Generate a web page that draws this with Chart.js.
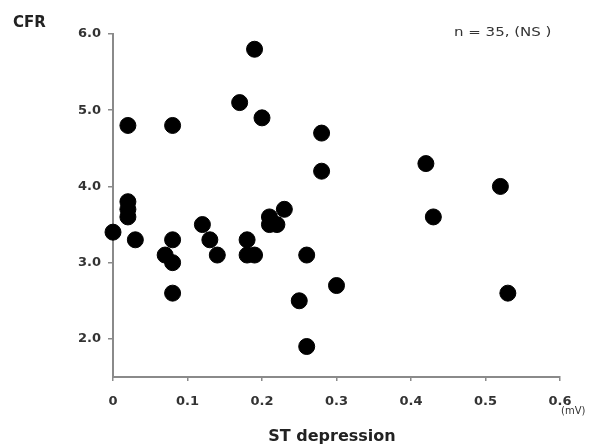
<!DOCTYPE html>
<html>
<head>
<meta charset="utf-8">
<script src="https://cdn.jsdelivr.net/npm/chart.js@4"></script>
<style>
  html, body { margin: 0; padding: 0; background: #fff; }
  #wrap { width: 595px; height: 448px; }
</style>
</head>
<body>
<div id="wrap"><canvas id="cfrChart" width="595" height="448"></canvas></div>
<script>
// ST depression (mV) vs CFR
const stDepression = [0, 0.02, 0.02, 0.02, 0.02, 0.03, 0.07, 0.08, 0.08, 0.08, 0.08,
    0.12, 0.13, 0.14, 0.17, 0.19, 0.20, 0.18, 0.18, 0.19,
    0.21, 0.21, 0.22, 0.23, 0.26, 0.25, 0.26, 0.30, 0.28, 0.28,
    0.42, 0.52, 0.43, 0.53];
const cfrValues = [3.4, 4.8, 3.8, 3.7, 3.6, 3.3, 3.1, 3.0, 3.3, 2.6, 4.8,
    3.5, 3.3, 3.1, 5.1, 5.8, 4.9, 3.3, 3.1, 3.1,
    3.6, 3.5, 3.5, 3.7, 3.1, 2.5, 1.9, 2.7, 4.7, 4.2,
    4.3, 4.0, 3.6, 2.6];
const xTicks = [0, 0.1, 0.2, 0.3, 0.4, 0.5, 0.6];
const yTicks = [2, 3, 4, 5, 6];

const points = stDepression.map((x, i) => ({ x: x, y: cfrValues[i] }));

const axisGray = '#8a8a8a';
const tickFont = { family: "'DejaVu Sans', sans-serif", size: 13, weight: 'bold' };

// extra labels drawn straight on the canvas
const labelsPlugin = {
    id: 'labels',
    afterDraw(chart) {
        const ctx = chart.ctx;
        ctx.save();
        ctx.fillStyle = '#222';
        ctx.textBaseline = 'middle';
        ctx.font = "bold 15px 'DejaVu Sans', sans-serif";
        ctx.textAlign = 'left';
        ctx.fillText('CFR', 13, 23);
        ctx.font = "bold 16px 'DejaVu Sans', sans-serif";
        ctx.textAlign = 'center';
        ctx.fillText('ST depression', 332, 437);
        ctx.fillStyle = '#333';
        ctx.textAlign = 'left';
        ctx.font = "10px 'DejaVu Sans', sans-serif";
        ctx.fillText('(mV)', 561, 411);
        // the note is a little stretched in the original
        ctx.translate(454, 33);
        ctx.scale(1.25, 1);
        ctx.font = "12px 'DejaVu Sans', sans-serif";
        ctx.fillText('n = 35, (NS )', 0, 0);
        ctx.restore();
    }
};

new Chart(document.getElementById('cfrChart'), {
    type: 'scatter',
    data: {
        datasets: [{
            data: points,
            backgroundColor: '#000',
            borderColor: '#000',
            pointRadius: 8,
            pointHoverRadius: 8,
            clip: false
        }]
    },
    options: {
        responsive: false,
        animation: false,
        events: [],
        layout: { padding: { left: 0, top: 34, right: 35, bottom: 0 } },
        plugins: {
            legend: { display: false },
            tooltip: { enabled: false }
        },
        scales: {
            x: {
                type: 'linear',
                min: 0,
                max: 0.6,
                afterFit: (s) => { s.height = 71; },
                afterBuildTicks: (s) => { s.ticks = xTicks.map(v => ({ value: v })); },
                border: { display: true, color: axisGray, width: 2 },
                grid: { drawOnChartArea: false, color: axisGray, tickLength: 4, lineWidth: 1.5 },
                ticks: {
                    color: '#333',
                    font: tickFont,
                    padding: 13,
                    maxRotation: 0,
                    callback: (v) => v === 0 ? '0' : v.toFixed(1)
                }
            },
            y: {
                type: 'linear',
                min: 1.5,
                max: 6.0,
                afterFit: (s) => { s.width = 113; },
                afterBuildTicks: (s) => { s.ticks = yTicks.map(v => ({ value: v })); },
                border: { display: true, color: axisGray, width: 2 },
                grid: { drawOnChartArea: false, color: axisGray, tickLength: 5, lineWidth: 1.5 },
                ticks: {
                    color: '#333',
                    font: tickFont,
                    padding: 7,
                    callback: (v) => v.toFixed(1)
                }
            }
        }
    },
    plugins: [labelsPlugin]
});
</script>
</body>
</html>
